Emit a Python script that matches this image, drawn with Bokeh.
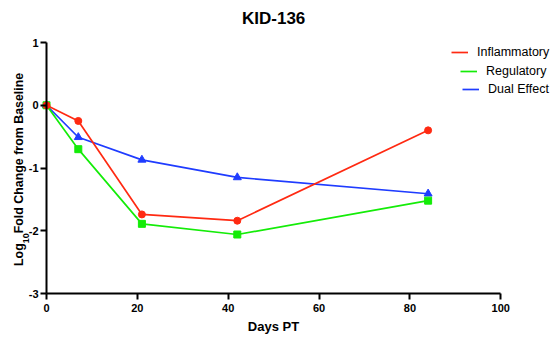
import math
from bokeh.plotting import figure
from bokeh.models import Range1d, FixedTicker, Label, Legend, LegendItem
from bokeh.embed import file_html
from bokeh.resources import INLINE

# ---- data ----
title_text = "KID-136"
x_label = "Days PT"
y_label_parts = ["Log", "10", " Fold Change from Baseline"]
days = [0, 7, 21, 42, 84]
inflammatory = [0.0, -0.25, -1.74, -1.84, -0.40]
regulatory = [0.0, -0.70, -1.89, -2.06, -1.52]
dual_effect = [0.0, -0.51, -0.87, -1.15, -1.41]
series_names = ["Inflammatory", "Regulatory", "Dual Effect"]
x_ticks = [0, 20, 40, 60, 80, 100]
y_ticks = [-3, -2, -1, 0, 1]

# ---- layout ----
W, H = 557, 338
AXIS_X_PX = 46   # canvas column of x = 0 (the y axis)
XPX = 4.543      # px per day
YPX = 62.75      # px per log unit
Y_TOP_PX = 42    # pixel row of y = 1
FONT = "Liberation Sans"
RED, GREEN, BLUE = "#ff2a12", "#14ec08", "#1f3cff"

x_start = x_ticks[0] - AXIS_X_PX / XPX
x_end = x_ticks[0] + (W - AXIS_X_PX) / XPX
y_end = y_ticks[-1] + Y_TOP_PX / YPX
y_start = y_end - H / YPX

def dx(px):  # canvas column -> data x
    return x_start + px / XPX

def dy(py):  # canvas row -> data y
    return y_end - py / YPX

p = figure(width=W, height=H, output_backend="svg", toolbar_location=None,
           x_range=Range1d(x_start, x_end), y_range=Range1d(y_start, y_end),
           min_border_left=0, min_border_right=0, min_border_top=0,
           min_border_bottom=0)
p.outline_line_color = None
p.grid.visible = False
p.background_fill_color = "white"
p.border_fill_color = "white"
p.yaxis.fixed_location = x_ticks[0]
p.xaxis.fixed_location = y_ticks[0]

for ax, ticks in ((p.xaxis[0], x_ticks), (p.yaxis[0], y_ticks)):
    ax.bounds = (ticks[0], ticks[-1])
    ax.ticker = FixedTicker(ticks=ticks, minor_ticks=[])
    ax.major_label_overrides = {t: str(t) for t in ticks}
    ax.axis_line_width = 2
    ax.axis_line_color = "black"
    ax.major_tick_line_width = 2
    ax.major_tick_line_color = "black"
    ax.major_tick_out = 6
    ax.major_tick_in = 0
    ax.minor_tick_out = 0
    ax.minor_tick_in = 0
    ax.major_label_text_font = FONT
    ax.major_label_text_font_size = "11px"
    ax.major_label_text_font_style = "bold"
    ax.major_label_text_color = "black"
    ax.axis_label_text_font = FONT
    ax.axis_label_text_font_style = "bold"
    ax.axis_label_text_color = "black"

p.xaxis.major_label_standoff = 4
p.yaxis.major_label_standoff = 2
p.xaxis.axis_label = x_label
p.xaxis.axis_label_text_font_size = "13px"
p.xaxis.axis_label_standoff = 4

# ---- series (drawn blue, green, red so red ends on top) ----
lb = p.line(days, dual_effect, line_color=BLUE, line_width=1.7)
p.scatter(days, dual_effect, marker="triangle", size=8, color=BLUE)
lg = p.line(days, regulatory, line_color=GREEN, line_width=1.7)
p.scatter(days, regulatory, marker="square", size=7, color=GREEN)
lr = p.line(days, inflammatory, line_color=RED, line_width=1.7)
p.scatter(days, inflammatory, marker="circle", size=7, color=RED)

# ---- legend: one entry per legend so that texts end right-aligned ----
for name, rend, (lx, ly_top) in ((series_names[0], lr, (451, 43)),
                                 (series_names[1], lg, (460, 62)),
                                 (series_names[2], lb, (462, 80))):
    leg = Legend(items=[LegendItem(label=name, renderers=[rend])],
                 location=(lx, H - ly_top - 18),
                 border_line_color=None, background_fill_alpha=0, padding=0, margin=0,
                 glyph_width=17, glyph_height=18, label_height=18, label_standoff=9,
                 label_text_font=FONT, label_text_font_size="12.5px",
                 label_text_color="black")
    p.add_layout(leg)

# ---- title ----
p.add_layout(Label(x=(x_ticks[0] + x_ticks[-1]) / 2, y=dy(18), text=title_text,
                   text_align="center", text_baseline="middle", text_font=FONT,
                   text_font_size="17px", text_font_style="bold", text_color="black"))

# ---- y axis title: "Log" + subscript "10" + rest, written upwards ----
MAIN_FS, SUB_FS = 12.4, 9.0
w_log = 1.833 * MAIN_FS
w_sub = 2 * 0.556 * SUB_FS
start_py = 265.5
for txt, py, px, fs in ((y_label_parts[0], start_py, 18.0, MAIN_FS),
                        (y_label_parts[1], start_py - w_log, 25.0, SUB_FS),
                        (y_label_parts[2], start_py - w_log - w_sub, 18.0, MAIN_FS)):
    p.add_layout(Label(x=dx(px), y=dy(py), text=txt, angle=math.pi / 2,
                       text_align="left", text_baseline="middle", text_font=FONT,
                       text_font_size=f"{fs}px", text_font_style="bold",
                       text_color="black"))

open("out.html", "w").write(file_html(p, INLINE))
